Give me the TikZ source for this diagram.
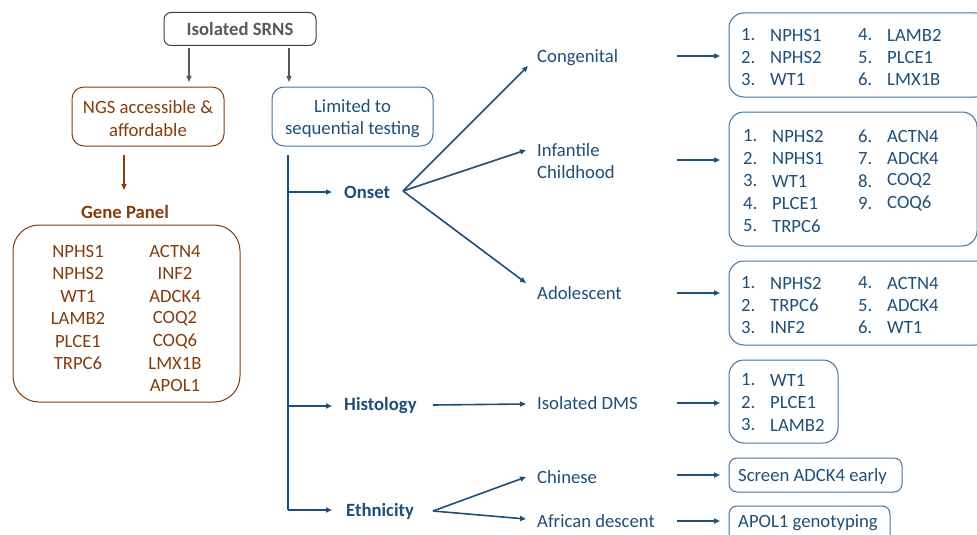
\documentclass[tikz,border=0pt]{standalone}
\usepackage{fontspec}
\setmainfont{Carlito}
\usetikzlibrary{arrows.meta}
\definecolor{myblue}{HTML}{1F4E79}
\definecolor{boxblue}{HTML}{41719C}
\definecolor{mybrown}{HTML}{843C0C}
\definecolor{mygrey}{HTML}{595959}
\definecolor{greyline}{HTML}{404040}
\begin{document}
\begin{tikzpicture}[x=1pt,y=-1pt,
  font=\fontsize{18.7}{22.4}\selectfont,
  lbl/.style={inner sep=0pt, anchor=west, text=myblue},
  brtxt/.style={inner sep=0pt, text=mybrown},
  bbox/.style={draw=boxblue, line width=1pt, rounded corners=15pt, inner sep=0pt},
  sbox/.style={draw=boxblue, line width=1pt, rounded corners=8pt, inner sep=0pt, text=myblue},
  barr/.style={draw=myblue, line width=1.6pt, -{Triangle[length=6pt,width=5pt]}},
  bline/.style={draw=myblue, line width=1.6pt},
  garr/.style={draw=mygrey, line width=1.4pt, -{Triangle[length=6pt,width=5pt]}},
  brarr/.style={draw=mybrown, line width=1.4pt, -{Triangle[length=6pt,width=5pt]}},
]
\useasboundingbox (0,0) rectangle (977,535);
\clip (0,0) rectangle (977,535);

% top
\node[draw=greyline, line width=1pt, rounded corners=7pt, minimum width=152pt, minimum height=33pt, inner sep=0pt, text=mygrey] (srns) at (240,29) {\bfseries Isolated SRNS};
\node[draw=mybrown, line width=1pt, rounded corners=12pt, minimum width=152pt, minimum height=59pt, inner sep=0pt] (ngs) at (148,116.5) {};
\node[align=center, text=mybrown, inner sep=0pt] (ngst) at (148,118.5) {NGS accessible \&\\affordable};
\node[draw=boxblue, line width=1pt, rounded corners=12pt, minimum width=161pt, minimum height=59pt, inner sep=0pt] (lim) at (352.5,116.5) {};
\node[align=center, text=myblue, inner sep=0pt] (limt) at (352.5,118.5) {Limited to\\sequential testing};

\coordinate (g1) at (189,48);
\coordinate (g2) at (289,48);
\draw[garr] (g1) -- (g1 |- 0,82);
\draw[garr] (g2) -- (g2 |- 0,82);

% gene panel
\coordinate (n1) at (124,155);
\node[brtxt, font=\fontsize{18.7}{22.4}\selectfont\bfseries] (gp) at (125,212) {Gene Panel};
\draw[brarr] (n1) -- (124,190);
\node[draw=mybrown, line width=1pt, rounded corners=26pt, minimum width=227pt, minimum height=177pt, inner sep=0pt] (gpbox) at (126.5,313.5) {};
\foreach \g [count=\i] in {NPHS1,NPHS2,WT1,LAMB2,PLCE1,TRPC6}
  \node[brtxt] (gl\i) at (78,{251.5+22.4*(\i-1)}) {\g};
\foreach \g [count=\i] in {ACTN4,INF2,ADCK4,COQ2,COQ6,LMX1B,APOL1}
  \node[brtxt] (gr\i) at (175,{251.5+22.4*(\i-1)}) {\g};

% trunk
\coordinate (t0) at (288,155);
\coordinate (t1) at (288,192);
\coordinate (t2) at (288,406);
\coordinate (t3) at (288,510);
\draw[bline] (t0) -- (t3);
\draw[barr] (t3) -- (332,510);
\draw[barr] (t1) -- (332,192);
\draw[barr] (t2) -- (332,406);

\node[lbl, font=\fontsize{18.7}{22.4}\selectfont\bfseries] (onset) at (344,192) {Onset};
\node[lbl, font=\fontsize{18.7}{22.4}\selectfont\bfseries] (hist) at (344,406) {Histology};
\node[lbl, font=\fontsize{18.7}{22.4}\selectfont\bfseries] (eth) at (346,511) {Ethnicity};

% onset fan
\coordinate (ov) at (403,191);
\draw[barr] (ov) -- (528,66);
\draw[barr] (ov) -- (526,150);
\draw[barr] (ov) -- (526,283);
\node[lbl] (cong) at (537,58) {Congenital};
\node[lbl, align=left] (inf) at (537,161) {Infantile\\Childhood};
\node[lbl] (ado) at (537,293) {Adolescent};

% histology
\coordinate (hv) at (433,405);
\draw[barr] (hv) -- (526,404);
\node[lbl] (dms) at (537,403) {Isolated DMS};

% ethnicity fan
\coordinate (ev) at (433,511);
\draw[barr] (ev) -- (526,477);
\draw[barr] (ev) -- (526,519);
\node[lbl] (chi) at (537,477) {Chinese};
\node[lbl] (afr) at (537,521) {African descent};

% boxes
\node[bbox, minimum width=261pt, minimum height=84pt] (cbox) at (859.5,55) {};
\node[bbox, minimum width=248pt, minimum height=134pt] (ibox) at (853,179) {};
\node[bbox, minimum width=261pt, minimum height=84pt] (abox) at (859.5,303) {};
\node[bbox, minimum width=109pt, minimum height=83pt] (dbox) at (783.5,401.5) {};
\node[sbox, minimum width=173pt, minimum height=34pt] (sbx) at (815.5,475) {};
\node[sbox, minimum width=161pt, minimum height=44pt] (pbx) at (809.5,528) {};
\node[lbl] (stx) at (738,477) {Screen ADCK4 early};
\node[lbl] (ptx) at (738,523) {APOL1 genotyping};

% right arrows
\foreach \y in {56,160,293,403,475,521}
  \draw[barr] (677,\y) -- (720,\y);

% lists
\foreach \n/\g [count=\i] in {1/NPHS1,2/NPHS2,3/WT1}
  { \node[lbl] (cn\i) at (741,{35+22.3*(\i-1)}) {\n.};
    \node[lbl] (cg\i) at (770,{35+22.3*(\i-1)}) {\g}; }
\foreach \n/\g [count=\i] in {4/LAMB2,5/PLCE1,6/LMX1B}
  { \node[lbl] (cm\i) at (858,{35+22.3*(\i-1)}) {\n.};
    \node[lbl] (ch\i) at (887,{35+22.3*(\i-1)}) {\g}; }

\foreach \n/\g [count=\i] in {1/NPHS2,2/NPHS1,3/WT1,4/PLCE1,5/TRPC6}
  { \node[lbl] (in\i) at (743,{136+22.5*(\i-1)}) {\n.};
    \node[lbl] (ig\i) at (772,{136+22.5*(\i-1)}) {\g}; }
\foreach \n/\g [count=\i] in {6/ACTN4,7/ADCK4,8/COQ2,9/COQ6}
  { \node[lbl] (im\i) at (858,{136+22.5*(\i-1)}) {\n.};
    \node[lbl] (ih\i) at (887,{136+22.5*(\i-1)}) {\g}; }

\foreach \n/\g [count=\i] in {1/NPHS2,2/TRPC6,3/INF2}
  { \node[lbl] (an\i) at (741,{283+22.3*(\i-1)}) {\n.};
    \node[lbl] (ag\i) at (770,{283+22.3*(\i-1)}) {\g}; }
\foreach \n/\g [count=\i] in {4/ACTN4,5/ADCK4,6/WT1}
  { \node[lbl] (am\i) at (858,{283+22.3*(\i-1)}) {\n.};
    \node[lbl] (ah\i) at (887,{283+22.3*(\i-1)}) {\g}; }

\foreach \n/\g [count=\i] in {1/WT1,2/PLCE1,3/LAMB2}
  { \node[lbl] (dn\i) at (741,{380+22.5*(\i-1)}) {\n.};
    \node[lbl] (dg\i) at (770,{380+22.5*(\i-1)}) {\g}; }
\end{tikzpicture}
\end{document}
